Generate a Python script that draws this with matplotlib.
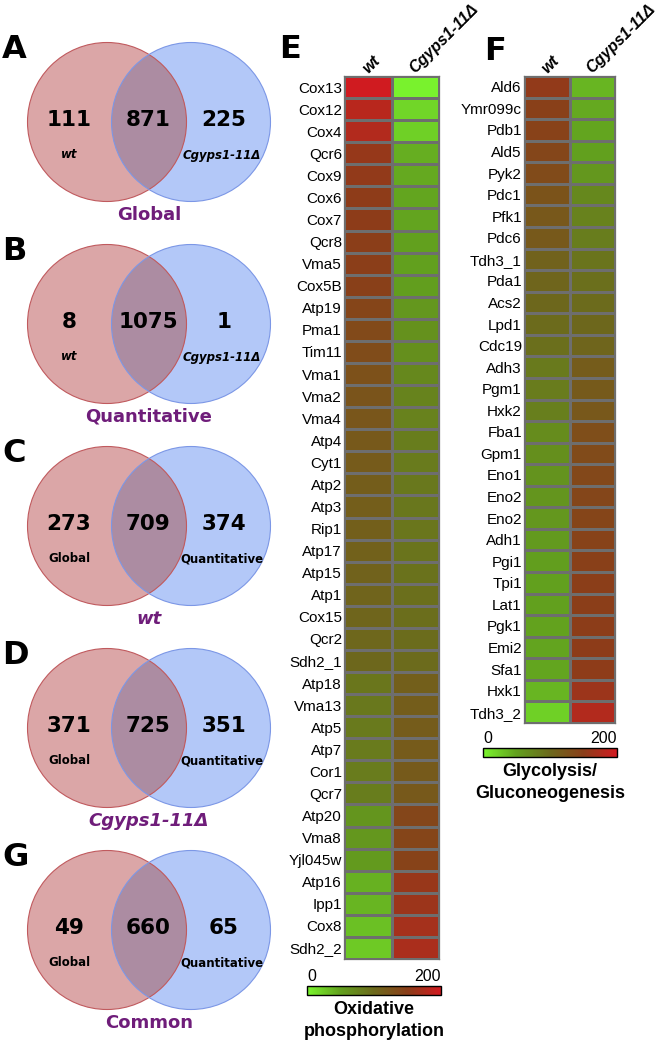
import numpy as np
import matplotlib
matplotlib.use("Agg")
import matplotlib.pyplot as plt
from matplotlib.patches import Circle
from matplotlib.colors import LinearSegmentedColormap

# ---------------- data ----------------
venn_letters = ['A', 'B', 'C', 'D', 'G']
venn_titles = ['Global', 'Quantitative', 'wt', 'Cgyps1-11Δ', 'Common']
venn_title_italic = [False, False, True, True, False]
left_only = [111, 8, 273, 371, 49]
overlap = [871, 1075, 709, 725, 660]
right_only = [225, 1, 374, 351, 65]
left_names = ['wt', 'wt', 'Global', 'Global', 'Global']
right_names = ['Cgyps1-11Δ', 'Cgyps1-11Δ', 'Quantitative', 'Quantitative', 'Quantitative']
name_italic = [True, True, False, False, False]

columns = ['wt', 'Cgyps1-11Δ']

oxphos_genes = ['Cox13', 'Cox12', 'Cox4', 'Qcr6', 'Cox9', 'Cox6', 'Cox7', 'Qcr8', 'Vma5', 'Cox5B',
                'Atp19', 'Pma1', 'Tim11', 'Vma1', 'Vma2', 'Vma4', 'Atp4', 'Cyt1', 'Atp2', 'Atp3',
                'Rip1', 'Atp17', 'Atp15', 'Atp1', 'Cox15', 'Qcr2', 'Sdh2_1', 'Atp18', 'Vma13', 'Atp5',
                'Atp7', 'Cor1', 'Qcr7', 'Atp20', 'Vma8', 'Yjl045w', 'Atp16', 'Ipp1', 'Cox8', 'Sdh2_2']
oxphos_wt = [198, 182, 178, 158, 155, 153, 152, 150, 150, 148,
             142, 136, 134, 128, 124, 122, 118, 116, 114, 113,
             112, 110, 108, 106, 104, 103, 102, 88, 86, 85,
             84, 83, 82, 60, 58, 56, 40, 38, 32, 26]
oxphos_mut = [2, 18, 22, 42, 45, 47, 48, 50, 50, 52,
              58, 64, 66, 72, 76, 78, 82, 84, 86, 87,
              88, 90, 92, 94, 96, 97, 98, 112, 114, 115,
              116, 117, 118, 140, 142, 144, 160, 162, 168, 172]

glyco_genes = ['Ald6', 'Ymr099c', 'Pdb1', 'Ald5', 'Pyk2', 'Pdc1', 'Pfk1', 'Pdc6', 'Tdh3_1', 'Pda1',
               'Acs2', 'Lpd1', 'Cdc19', 'Adh3', 'Pgm1', 'Hxk2', 'Fba1', 'Gpm1', 'Eno1', 'Eno2',
               'Eno2', 'Adh1', 'Pgi1', 'Tpi1', 'Lat1', 'Pgk1', 'Emi2', 'Sfa1', 'Hxk1', 'Tdh3_2']
glyco_wt = [155, 148, 146, 140, 135, 125, 120, 118, 108, 105,
            102, 98, 95, 85, 83, 80, 68, 65, 62, 60,
            58, 56, 52, 50, 50, 49, 48, 47, 38, 22]
glyco_mut = [38, 45, 47, 50, 58, 72, 78, 82, 90, 95,
             98, 102, 105, 115, 117, 120, 132, 135, 138, 140,
             142, 144, 148, 150, 150, 151, 152, 153, 162, 178]

cbar_ticks = [0, 200]
cbar_titles = ['Oxidative\nphosphorylation', 'Glycolysis/\nGluconeogenesis']

# ---------------- figure ----------------
W, H = 664, 1042
fig = plt.figure(figsize=(W / 100, H / 100), dpi=100)

def ax_px(x0, y0, x1, y1):
    return fig.add_axes([x0 / W, 1 - y1 / H, (x1 - x0) / W, (y1 - y0) / H])

bg = fig.add_axes([0, 0, 1, 1])
bg.set_xlim(0, W)
bg.set_ylim(H, 0)
bg.axis('off')
bg.patch.set_visible(False)

VF = 'DejaVu Sans'
AF = 'Liberation Sans'
purple = '#6f1d7a'
left_fill = '#dba6a7'
right_fill = '#b3c8f8'
over_fill = '#ac8ca2'
left_edge = '#c05a5e'
right_edge = '#7c97e6'

r = 79.5
cxL, cxR = 107, 191
centers_y = [122, 324, 526, 728, 930]
num_x = [69, 148, 224]

for i in range(5):
    cy = centers_y[i]
    cl = Circle((cxL, cy), r, facecolor=left_fill, edgecolor='none', zorder=1)
    cr = Circle((cxR, cy), r, facecolor=right_fill, edgecolor='none', zorder=1)
    bg.add_patch(cr)
    bg.add_patch(cl)
    co = Circle((cxL, cy), r, facecolor=over_fill, edgecolor='none', zorder=2)
    bg.add_patch(co)
    co.set_clip_path(cr)
    bg.add_patch(Circle((cxL, cy), r, facecolor='none', edgecolor=left_edge, lw=0.8, zorder=3))
    bg.add_patch(Circle((cxR, cy), r, facecolor='none', edgecolor=right_edge, lw=0.8, zorder=3))
    for x, v in zip(num_x, [left_only[i], overlap[i], right_only[i]]):
        bg.text(x, cy - 2, str(v), ha='center', va='center', fontsize=15.5,
                fontweight='bold', family=VF, zorder=4)
    st = 'italic' if name_italic[i] else 'normal'
    bg.text(num_x[0], cy + 33, left_names[i], ha='center', va='center', fontsize=8.5,
            fontweight='bold', style=st, family=VF, zorder=4)
    bg.text(num_x[2] - 2, cy + 33, right_names[i], ha='center', va='center', fontsize=8.5,
            fontweight='bold', style=st, family=VF, zorder=4)
    bg.text((cxL + cxR) / 2, cy + 93, venn_titles[i], ha='center', va='center', fontsize=13,
            fontweight='bold', color=purple, family=VF,
            style='italic' if venn_title_italic[i] else 'normal', zorder=4)
    bg.text(2, cy - 72, venn_letters[i], ha='left', va='center', fontsize=23,
            fontweight='bold', family=VF, zorder=4)

bg.text(279, 49, 'E', ha='left', va='center', fontsize=23, fontweight='bold', family=VF)
bg.text(484, 51, 'F', ha='left', va='center', fontsize=23, fontweight='bold', family=VF)

# ---------------- heatmaps ----------------
cmap = LinearSegmentedColormap.from_list('gbr', [
    (0.0, (122 / 255, 245 / 255, 45 / 255)),
    (0.25, (98 / 255, 160 / 255, 30 / 255)),
    (0.5, (108 / 255, 105 / 255, 28 / 255)),
    (0.75, (138 / 255, 62 / 255, 25 / 255)),
    (1.0, (210 / 255, 26 / 255, 32 / 255)),
])

def heatmap(box, genes, wt, mut, cbox, title):
    ax = ax_px(*box)
    data = np.column_stack([wt, mut])
    n = len(genes)
    ax.pcolormesh(np.arange(3) - 0.5, np.arange(n + 1) - 0.5, data, cmap=cmap, vmin=0, vmax=200,
                  edgecolors='#6e6e6e', linewidth=0.9)
    ax.set_xlim(-0.5, 1.5)
    ax.set_ylim(n - 0.5, -0.5)
    ax.set_yticks(range(n))
    ax.set_yticklabels(genes, family=AF, fontsize=11)
    ax.tick_params(axis='y', length=0, pad=1.5)
    ax.set_xticks([])
    for s in ax.spines.values():
        s.set_color('#6e6e6e')
        s.set_linewidth(0.9)
    for j, c in enumerate(columns):
        ax.text(j + 0.05, -0.5, c, rotation=45, rotation_mode='anchor', ha='left', va='bottom',
                fontsize=11.5, fontweight='bold', style='italic', family=AF)
    cax = ax_px(*cbox)
    cb = fig.colorbar(plt.cm.ScalarMappable(norm=plt.Normalize(0, 200), cmap=cmap), cax=cax,
                      orientation='horizontal')
    cb.outline.set_linewidth(1.0)
    cax.set_xticks([])
    cax.text(0, 1.25, str(cbar_ticks[0]), transform=cax.transAxes, ha='left', va='bottom',
             fontsize=11.5, family=AF)
    cax.text(1, 1.25, str(cbar_ticks[1]), transform=cax.transAxes, ha='right', va='bottom',
             fontsize=11.5, family=AF)
    cx = (cbox[0] + cbox[2]) / 2
    l1, l2 = title.split('\n')
    bg.text(cx, cbox[3] + 14, l1, ha='center', va='center', fontsize=13, fontweight='bold', family=AF)
    bg.text(cx, cbox[3] + 36, l2, ha='center', va='center', fontsize=13, fontweight='bold', family=AF)

heatmap((344, 76, 439, 959), oxphos_genes, oxphos_wt, oxphos_mut, (307, 986, 441, 995), cbar_titles[0])
heatmap((524, 76, 615, 723), glyco_genes, glyco_wt, glyco_mut, (483, 748, 617, 757), cbar_titles[1])

fig.savefig('out.png', dpi=100)
